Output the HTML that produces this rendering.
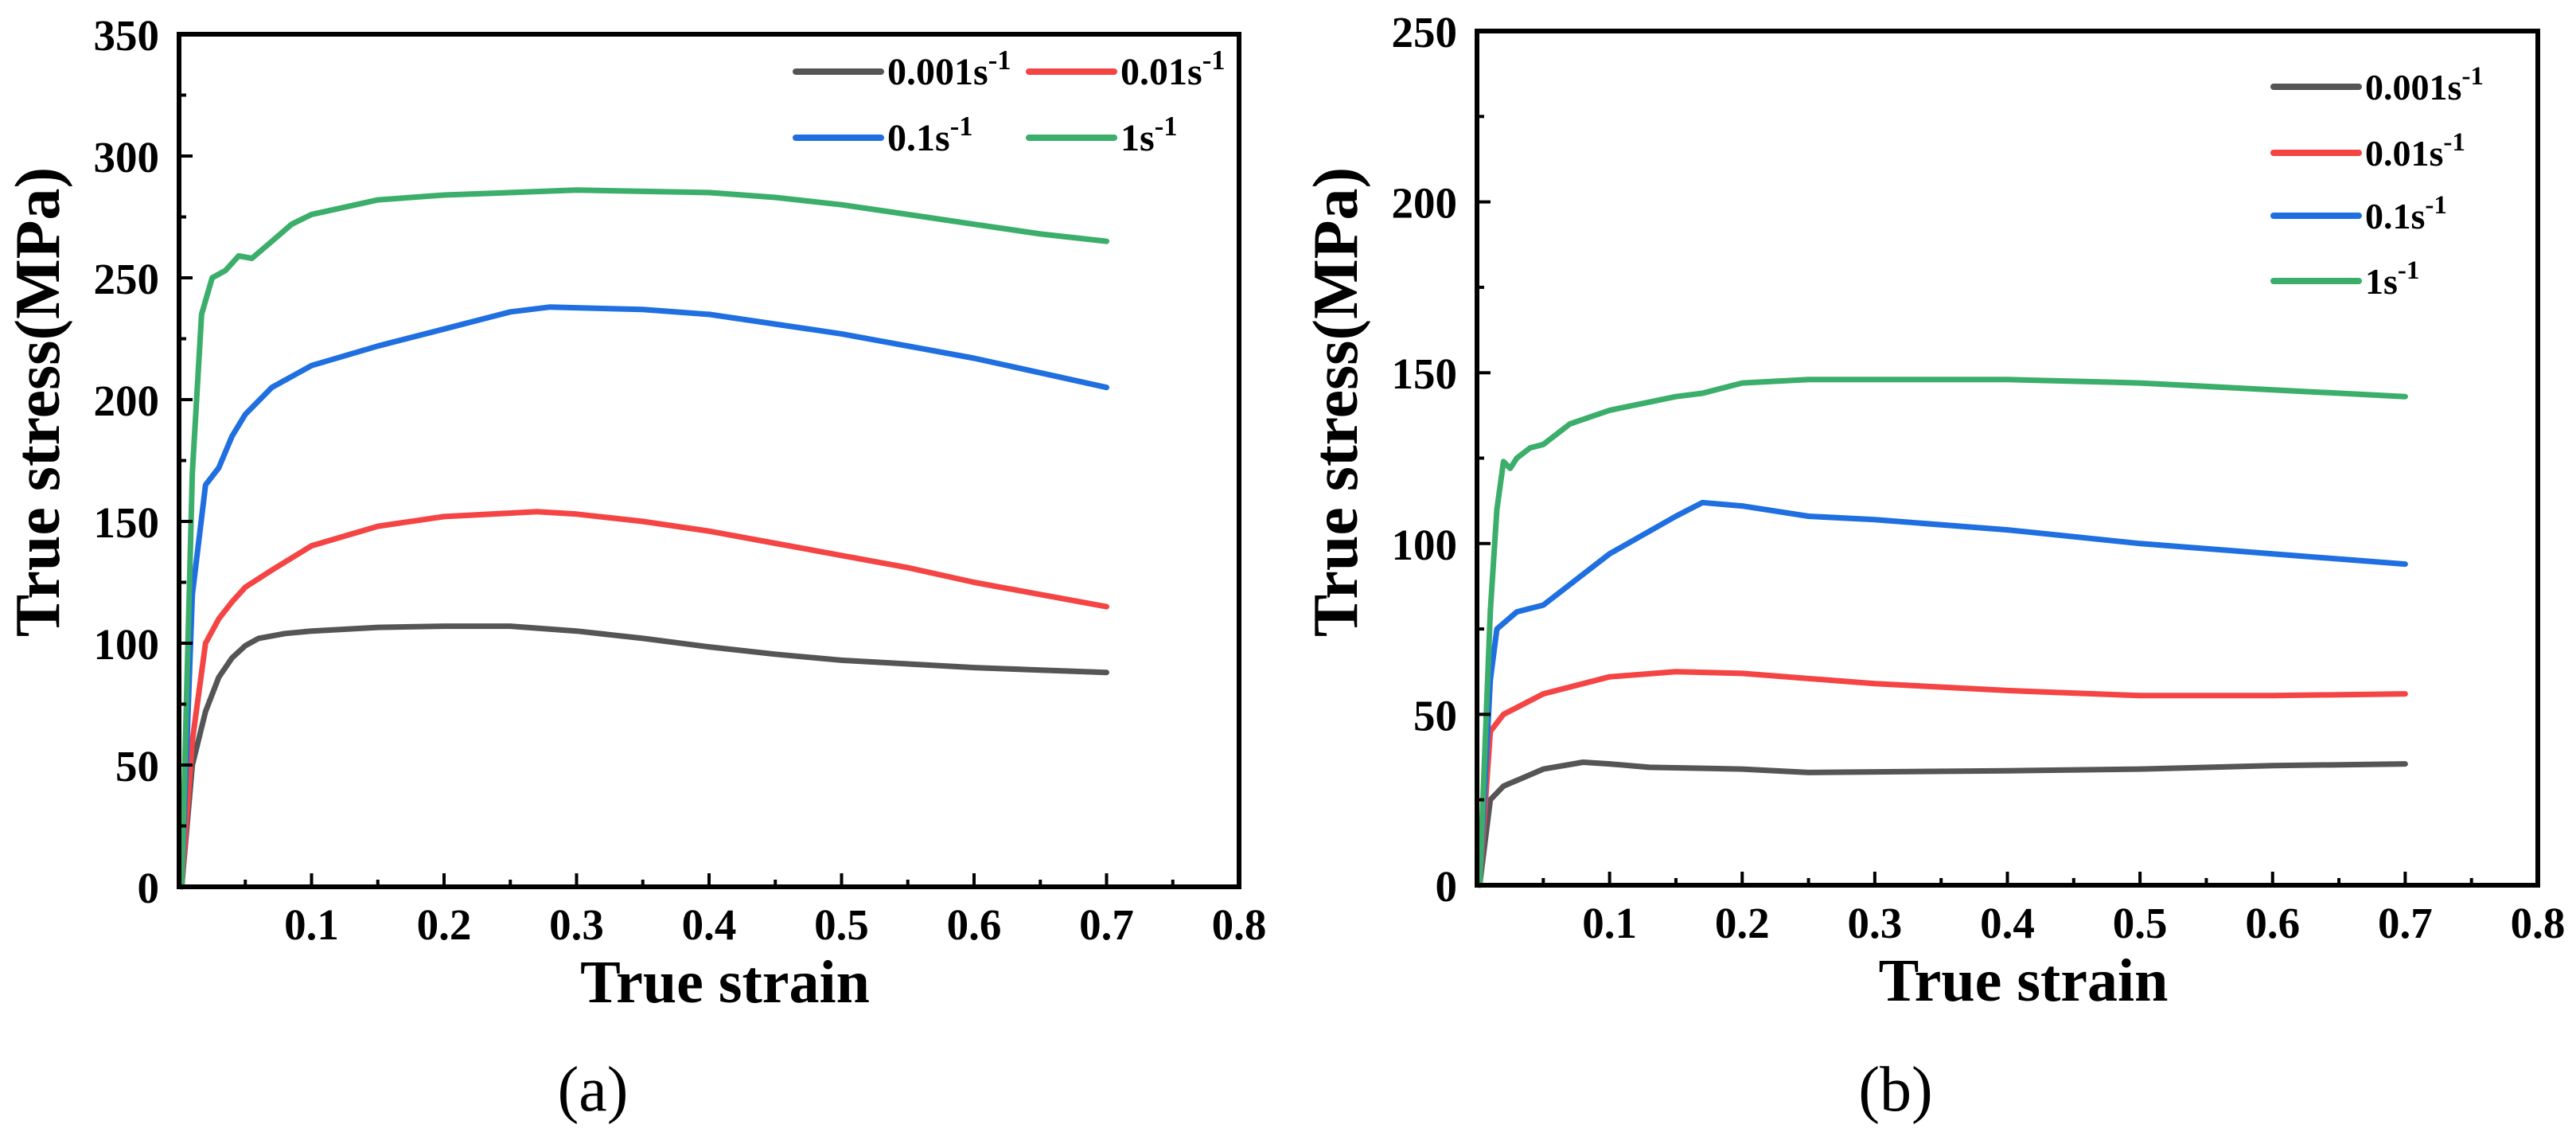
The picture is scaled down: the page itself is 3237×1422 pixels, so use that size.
<!DOCTYPE html>
<html><head><meta charset="utf-8"><style>
html,body{margin:0;padding:0;background:#fff;}
svg{display:block;font-family:"Liberation Serif",serif;}
</style></head><body>
<svg id="s" width="3237" height="1422" xmlns="http://www.w3.org/2000/svg"></svg>
<script>
const xTicks=[0.1,0.2,0.3,0.4,0.5,0.6,0.7,0.8];
const yTicksA=[0,50,100,150,200,250,300,350];
const yTicksB=[0,50,100,150,200,250];
const seriesNames=["0.001s","0.01s","0.1s","1s"];
const colors=["#555555","#f44444","#1f6fe0","#3aae6a"];
const aBlackX=[0.002,0.01,0.02,0.03,0.04,0.05,0.06,0.08,0.1,0.15,0.2,0.25,0.3,0.35,0.4,0.45,0.5,0.55,0.6,0.65,0.7];
const aBlackY=[0,50,72,86,94,99,102,104,105,106.5,107,107,105,102,98.5,95.5,93,91.5,90,89,88];
const aRedX=[0.002,0.01,0.02,0.03,0.04,0.05,0.07,0.1,0.15,0.2,0.27,0.3,0.35,0.4,0.45,0.5,0.55,0.6,0.65,0.7];
const aRedY=[0,60,100,110,117,123,130,140,148,152,154,153,150,146,141,136,131,125,120,115];
const aBlueX=[0.002,0.01,0.02,0.03,0.04,0.05,0.07,0.1,0.15,0.2,0.25,0.28,0.35,0.4,0.45,0.5,0.55,0.6,0.65,0.7];
const aBlueY=[0,120,165,172,185,194,205,214,222,229,236,238,237,235,231,227,222,217,211,205];
const aGreenX=[0.002,0.01,0.017,0.025,0.035,0.045,0.055,0.07,0.085,0.1,0.15,0.2,0.3,0.4,0.45,0.5,0.55,0.6,0.65,0.7];
const aGreenY=[0,170,235,250,253,259,258,265,272,276,282,284,286,285,283,280,276,272,268,265];
const bBlackX=[0.002,0.01,0.02,0.05,0.08,0.1,0.13,0.2,0.25,0.4,0.5,0.6,0.7];
const bBlackY=[0,25,29,34,36,35.5,34.5,34,33,33.5,34,35,35.5];
const bRedX=[0.002,0.01,0.02,0.05,0.1,0.15,0.2,0.3,0.4,0.5,0.6,0.7];
const bRedY=[0,45,50,56,61,62.5,62,59,57,55.5,55.5,56];
const bBlueX=[0.002,0.01,0.015,0.03,0.05,0.1,0.15,0.17,0.2,0.25,0.3,0.4,0.5,0.6,0.7];
const bBlueY=[0,60,75,80,82,97,108,112,111,108,107,104,100,97,94];
const bGreenX=[0.002,0.01,0.015,0.02,0.025,0.03,0.04,0.05,0.07,0.1,0.15,0.17,0.2,0.25,0.4,0.5,0.6,0.7];
const bGreenY=[0,80,110,124,122,125,128,129,135,139,143,144,147,148,148,147,145,143];

const NS="http://www.w3.org/2000/svg";
const svg=document.getElementById('s');
function el(tag,attrs,parent,text){const e=document.createElementNS(NS,tag);for(const k in attrs)e.setAttribute(k,attrs[k]);if(text!==undefined)e.textContent=text;(parent||svg).appendChild(e);return e;}

function chart(cfg){
  const g=el('g',{});
  
  
  const sx=v=>cfg.x0+(cfg.x1-cfg.x0)*v/0.8;
  const sy=v=>cfg.y0-(cfg.y0-cfg.y1)*v/cfg.ymax;
  cfg.series.forEach((s,i)=>{
    const d=s[0].map((x,j)=>(j?'L':'M')+sx(x).toFixed(1)+','+sy(s[1][j]).toFixed(1)).join(' ');
    const p=el('path',{d:d,fill:'none',stroke:colors[i],'stroke-width':7,'stroke-linejoin':'round','stroke-linecap':'round'},g);
    
    
  });
  const fr=el('rect',{x:cfg.x0,y:cfg.y1,width:cfg.x1-cfg.x0,height:cfg.y0-cfg.y1,fill:'none',stroke:'#000','stroke-width':6},g);
  
  
  for(let v=0.05;v<0.8;v+=0.05){
    const major=Math.abs(v*10-Math.round(v*10))<1e-6;
    el('line',{x1:sx(v),x2:sx(v),y1:cfg.y0,y2:cfg.y0-(major?17:9),stroke:'#000','stroke-width':4},g);
  }
  xTicks.forEach(v=>{
    const t=el('text',{x:sx(v),y:cfg.y0+66,'text-anchor':'middle','font-size':55,'font-weight':'bold'},g,String(v));
    
    
  });
  el('text',{x:cfg.x0-25,y:cfg.y0+20,'text-anchor':'end','font-size':55,'font-weight':'bold'},g,'0');
  cfg.yTicks.forEach((v,i)=>{
    el('line',{x1:cfg.x0,x2:cfg.x0+17,y1:sy(v),y2:sy(v),stroke:'#000','stroke-width':4},g);
    if(i<cfg.yTicks.length-1) el('line',{x1:cfg.x0,x2:cfg.x0+9,y1:sy(v+25),y2:sy(v+25),stroke:'#000','stroke-width':4},g);
    if(v===0) return;
    const t=el('text',{x:cfg.x0-25,y:sy(v)+20,'text-anchor':'end','font-size':55,'font-weight':'bold'},g,String(v));
    
    
  });
  const xt=el('text',{x:(cfg.x0+cfg.x1)/2+20,y:cfg.y0+145,'text-anchor':'middle','font-size':76,'font-weight':'bold'},g,'True strain');
  
  
  const yt=el('text',{x:0,y:0,'text-anchor':'middle','font-size':80,'font-weight':'bold',transform:`translate(${cfg.ytx},${cfg.yty}) rotate(-90)`},g,'True stress(MPa)');
  
  
  const cap=el('text',{x:cfg.capx,y:1395,'text-anchor':'middle','font-size':80},g,cfg.cap);
  
  
  cfg.legend.forEach((p,i)=>{
    const lg=el('g',{},g);
    
    
    el('line',{x1:p[0],x2:p[0]+107,y1:p[1],y2:p[1],stroke:colors[i],'stroke-width':8,'stroke-linecap':'round'},lg);
    const t=el('text',{x:p[0]+115,y:p[1]+16,'font-size':cfg.lfs,'font-weight':'bold'},lg,seriesNames[i]);
    el('tspan',{dy:-19,'font-size':cfg.lfs*0.72},t,'-1');
  });
}
chart({name:'chart-a',x0:225,x1:1557,y0:1114,y1:43,ymax:350,yTicks:yTicksA,
  series:[[aBlackX,aBlackY],[aRedX,aRedY],[aBlueX,aBlueY],[aGreenX,aGreenY]],
  ytx:74,yty:505,cap:'(a)',capx:745,lfs:48,legend:[[1000,90],[1293,90],[1000,173],[1293,173]]});
chart({name:'chart-b',x0:1856,x1:3189,y0:1112,y1:39,ymax:250,yTicks:yTicksB,
  series:[[bBlackX,bBlackY],[bRedX,bRedY],[bBlueX,bBlueY],[bGreenX,bGreenY]],
  ytx:1705,yty:505,cap:'(b)',capx:2382,lfs:46,legend:[[2857,109],[2857,192],[2857,271],[2857,353]]});
</script>
</body></html>
